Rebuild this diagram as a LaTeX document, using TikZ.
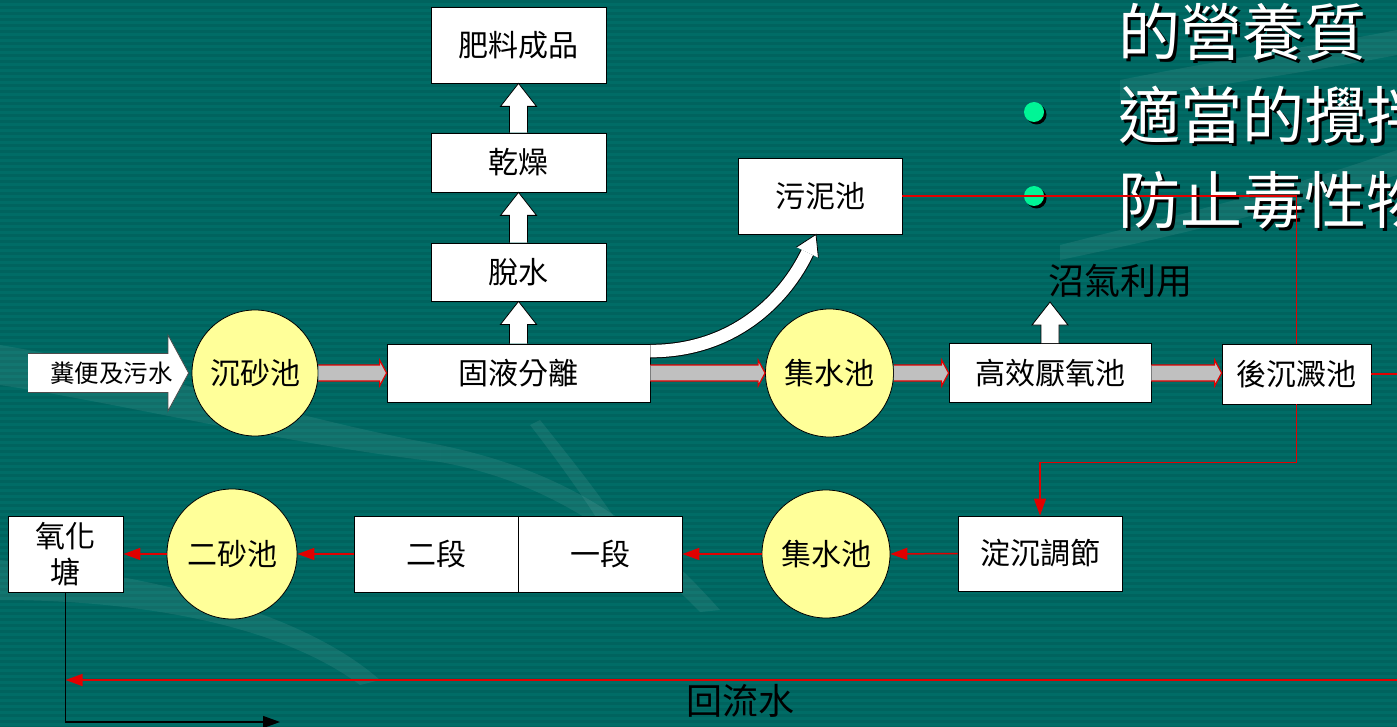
\documentclass[tikz,border=0pt]{standalone}
\usepackage{fontspec}
\setmainfont{Noto Sans CJK TC}
\usetikzlibrary{calc,arrows.meta}
\definecolor{bgteal}{RGB}{0,108,102}
\definecolor{bgstripe}{RGB}{0,99,94}
\definecolor{poolyellow}{RGB}{255,255,153}
\definecolor{arrowgray}{RGB}{192,192,192}
\definecolor{bulletgreen}{RGB}{0,245,150}
\definecolor{linered}{RGB}{225,0,0}
\newcommand{\grayarrow}[2]{%
  \path[draw=linered, fill=arrowgray, line width=1.2pt] let \p1=(#1.east), \p2=(#2.west) in
    (\x1,\y1+8pt) -- (\x2-7pt,\y1+8pt) -- (\x2-7pt,\y1+13pt) -- (\x2,\y1) --
    (\x2-7pt,\y1-13pt) -- (\x2-7pt,\y1-8pt) -- (\x1,\y1-8pt);}
\newcommand{\uparr}[2]{%
  \path[draw=black, fill=white, line width=0.8pt] let \p1=(#1), \p2=(#2) in
    (\x1-9pt,\y1) -- (\x1-9pt,\y2-23pt) -- (\x1-18pt,\y2-23pt) -- (\x1,\y2) --
    (\x1+18pt,\y2-23pt) -- (\x1+9pt,\y2-23pt) -- (\x1+9pt,\y1);}
\begin{document}
\begin{tikzpicture}[x=1pt,y=-1pt,
  box/.style={draw=black, fill=white, line width=0.8pt, inner sep=0pt, font=\fontsize{30}{36}\selectfont},
  poolnode/.style={circle, draw=black, fill=poolyellow, line width=0.8pt, inner sep=0pt, font=\fontsize{30}{36}\selectfont},
  title/.style={anchor=base west, inner sep=0pt, font=\fontsize{62}{70}\selectfont},
  redline/.style={draw=linered, line width=1.5pt},
  redarrow/.style={redline, -{Triangle[length=17pt,width=12pt]}},
  plain/.style={inner sep=0pt}
]
\useasboundingbox (0,0) rectangle (1397,727);
\clip (0,0) rectangle (1397,727);
% background
\fill[bgteal] (0,0) rectangle (1397,727);
\foreach \k in {0,...,121} \fill[bgstripe] (0,\k*6) rectangle (1397,\k*6+3);
% faint swooshes
\begin{scope}[fill=white, opacity=0.07]
  \fill (0,345) .. controls (150,370) and (300,420) .. (440,445) -- (440,462) .. controls (290,445) and (130,405) .. (0,385) -- cycle;
  \fill (440,445) .. controls (560,470) and (640,520) .. (720,610) -- (700,612) .. controls (620,530) and (540,480) .. (440,462) -- cycle;
  \fill (540,420) .. controls (580,470) and (620,520) .. (640,560) -- (625,565) .. controls (600,520) and (565,470) .. (530,425) -- cycle;
  \fill (1060,245) .. controls (1180,215) and (1300,185) .. (1397,150) -- (1397,175) .. controls (1300,205) and (1180,235) .. (1060,260) -- cycle;
  \fill (1120,80) .. controls (1220,60) and (1320,45) .. (1397,30) -- (1397,55) .. controls (1320,70) and (1220,85) .. (1120,100) -- cycle;
  \fill (0,560) .. controls (150,575) and (300,610) .. (380,680) -- (360,685) .. controls (280,625) and (140,600) .. (0,600) -- cycle;
\end{scope}
% title text with shadow
\node[title, text=black] (t1s) at (1121,58.5) {的營養質};
\node[title, text=white] (t1) at (1118,55.5) {的營養質};
\node[title, text=black] (t2s) at (1121,141.5) {適當的攪拌};
\node[title, text=white] (t2) at (1118,138.5) {適當的攪拌};
\node[title, text=black] (t3s) at (1121,226.5) {防止毒性物};
\node[title, text=white] (t3) at (1118,223.5) {防止毒性物};
\fill[black] (1036.5,114.5) circle (10);
\fill[bulletgreen] (1034,112) circle (10);
\fill[black] (1036.5,198.5) circle (10);
\fill[bulletgreen] (1034,196) circle (10);
% nodes
\node[box, minimum width=175pt, minimum height=76pt] (fert) at (518.5,45) {肥料成品};
\node[box, minimum width=175pt, minimum height=59pt] (dry) at (518.5,162.5) {乾燥};
\node[box, minimum width=175pt, minimum height=58pt] (dewater) at (518.5,272) {脫水};
\node[box, minimum width=263pt, minimum height=58pt] (solid) at (518.5,373) {固液分離};
\node[box, minimum width=164pt, minimum height=76pt] (sludge) at (820,196) {污泥池};
\node[poolnode, minimum size=126pt] (sand1) at (255,373) {沉砂池};
\node[poolnode, minimum size=128pt] (coll1) at (829.5,373) {集水池};
\node[box, minimum width=202pt, minimum height=59pt] (anaer) at (1050,373) {高效厭氧池};
\node[box, minimum width=149pt, minimum height=60pt] (post) at (1296.5,374) {後沉澱池};
\node[plain, font=\fontsize{36}{40}\selectfont] (biogas) at (1120,281) {沼氣利用};
\coordinate (gastip) at (1050,302);
\node[box, minimum width=164pt, minimum height=75pt] (adjust) at (1040,553.5) {淀沉調節};
\node[poolnode, minimum size=128pt] (coll2) at (826,554) {集水池};
\node[box, minimum width=164pt, minimum height=76pt] (st1) at (600,554) {一段};
\node[box, minimum width=164pt, minimum height=76pt] (st2) at (436,554) {二段};
\node[poolnode, minimum size=130pt] (sand2) at (232,554) {二砂池};
\node[box, minimum width=115pt, minimum height=76pt, align=center] (oxid) at (65.5,554) {氧化\\塘};
\node[plain, font=\fontsize{36}{40}\selectfont] (ret) at (740,701) {回流水};
% input arrow
\coordinate (intip) at ($(sand1.west)+(-3,0)$);
\path[draw=black!70, fill=white, line width=0.8pt]
  (28,353.5) -- (168,353.5) -- (168,335) -- (intip) -- (168,411) -- (168,392.5) -- (28,392.5);
\node[plain, font=\fontsize{24.5}{28}\selectfont] (inlabel) at (111.5,373) {糞便及污水};
% gray flow arrows
\grayarrow{sand1}{solid}
\grayarrow{solid}{coll1}
\grayarrow{coll1}{anaer}
\grayarrow{anaer}{post}
% white up arrows
\uparr{solid.north}{dewater.south}
\uparr{dewater.north}{dry.south}
\uparr{dry.north}{fert.south}
\uparr{anaer.north}{gastip}
% curved arrow to sludge
\coordinate (cs) at ($(solid.north east)+(0,7.5)$);
\coordinate (ct) at ($(sludge.south)+(-4,0)$);
\coordinate (cb) at ($(ct)+(-8.6,18)$);
\draw[black, line width=14.5pt] (cs) .. controls +(85,0) and +(-21.5,45) .. (cb);
\draw[white, line width=12.5pt] (cs) .. controls +(85,0) and +(-21.5,45) .. (cb);
\path[draw=black, fill=white, line width=0.8pt] ($(cb)+(-11,-5.3)$) -- (ct) -- ($(cb)+(11,5.3)$);
% red connectors
\draw[redline] (sludge.east) -| (post.north);
\coordinate (rightout) at (1397,374);
\draw[redline] (post.east) -- (rightout);
\draw[redarrow] (post.south) |- ($(adjust.north)+(0,-53)$) -- (adjust.north);
\draw[redarrow] (adjust.west) -- (coll2.east);
\draw[redarrow] (coll2.west) -- (st1.east);
\draw[redarrow] (st2.west) -- (sand2.east);
\draw[redarrow] (sand2.west) -- (oxid.east);
\coordinate (retin) at (1397,680);
\draw[redarrow] (retin) -- (retin -| oxid.south);
\coordinate (outflow) at (280,722);
\draw[black, line width=1.3pt, -{Triangle[length=17pt,width=12pt]}] (oxid.south) |- (outflow);
\end{tikzpicture}
\end{document}
